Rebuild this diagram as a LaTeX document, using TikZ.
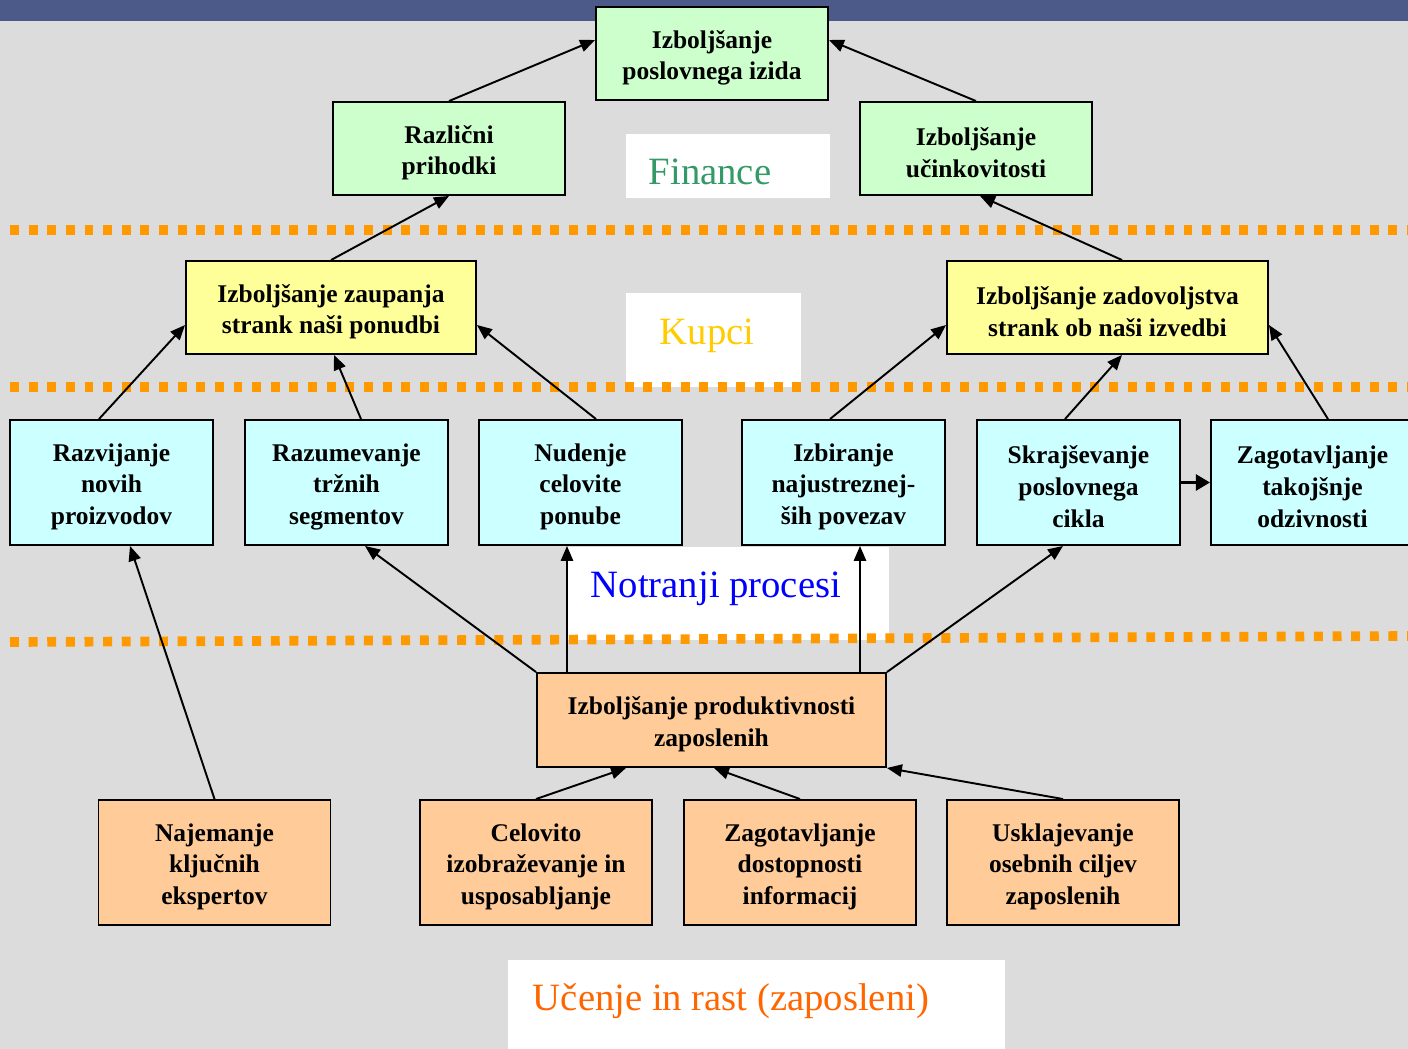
\documentclass[tikz,border=0pt]{standalone}
\usepackage{fontspec}
\setmainfont{Liberation Serif}
\usetikzlibrary{arrows.meta}
\definecolor{bgray}{HTML}{DCDCDC}
\definecolor{topbar}{HTML}{4B5A88}
\definecolor{fgreen}{HTML}{CCFFCC}
\definecolor{fyellow}{HTML}{FFFF99}
\definecolor{fcyan}{HTML}{CCFFFF}
\definecolor{forange}{HTML}{FFCC99}
\definecolor{dotorange}{HTML}{FF9900}
\definecolor{tfin}{HTML}{339966}
\definecolor{tkup}{HTML}{FFCC00}
\definecolor{tnot}{HTML}{0000FF}
\definecolor{tuce}{HTML}{FF6600}
\begin{document}
\begin{tikzpicture}[
  box/.style={draw=black, line width=1.1pt, inner sep=0pt},
  txt/.style={align=center, inner sep=0pt, yshift=-0.085cm, font=\bfseries\fontsize{14.5}{18}\selectfont},
  gbox/.style={box, fill=fgreen, minimum width=4.64cm, minimum height=1.86cm},
  ybox/.style={box, fill=fyellow, minimum height=1.86cm},
  cbox/.style={box, fill=fcyan, minimum width=4.06cm, minimum height=2.5cm},
  obox/.style={box, fill=forange, minimum width=4.64cm, minimum height=2.5cm},
  arr/.style={line width=1.1pt, -{Triangle[length=8.5pt,width=7pt]}},
  dots/.style={draw=dotorange, line width=5.5pt, dash pattern=on 5.1pt off 5.5pt},
  lbl/.style={font=\fontsize{22}{26}\selectfont, inner sep=0pt}
]
% background
\fill[bgray] (0,0) rectangle (28.16,-20.98);
\useasboundingbox (0,0) rectangle (28.16,-20.98);
\fill[topbar] (0,0) rectangle (28.16,-0.41);
% white label boxes
\fill[white] (12.52,-2.68) rectangle (16.6,-3.96);
\fill[white] (12.52,-5.86) rectangle (16.02,-7.74);
\fill[white] (11.34,-10.94) rectangle (17.78,-12.8);
\fill[white] (10.16,-19.2) rectangle (20.1,-20.98);
\node[lbl, text=tfin] (lfin) at (14.2,-3.44) {Finance};
\node[lbl, text=tkup] (lkup) at (14.14,-6.72) {Kupci};
\node[lbl, text=tnot] (lnot) at (14.32,-11.78) {Notranji procesi};
\node[lbl, text=tuce] (luce) at (14.62,-20.02) {Učenje in rast (zaposleni)};
% dotted separators
\draw[dots] (0.2,-4.6) -- (28.16,-4.6);
\draw[dots] (0.2,-7.74) -- (28.16,-7.74);
\draw[dots] (0.2,-12.84) -- (28.16,-12.72);
% nodes
\node[gbox, label={[txt]center:{Izboljšanje\\poslovnega izida}}] (top) at (14.24,-1.07) {};
\node[gbox, label={[txt]center:{Različni\\prihodki}}] (raz) at (8.98,-2.97) {};
\node[gbox, label={[txt]center:{Izboljšanje\\učinkovitosti}}] (uci) at (19.52,-2.97) {};
\node[ybox, minimum width=5.8cm, label={[txt]center:{Izboljšanje zaupanja\\strank naši ponudbi}}] (zau) at (6.62,-6.15) {};
\node[ybox, minimum width=6.42cm, label={[txt]center:{Izboljšanje zadovoljstva\\strank ob naši izvedbi}}] (zad) at (22.15,-6.15) {};
\node[cbox, label={[txt]center:{Razvijanje\\novih\\proizvodov}}] (c1) at (2.23,-9.65) {};
\node[cbox, label={[txt]center:{Razumevanje\\tržnih\\segmentov}}] (c2) at (6.93,-9.65) {};
\node[cbox, label={[txt]center:{Nudenje\\celovite\\ponube}}] (c3) at (11.61,-9.65) {};
\node[cbox, label={[txt]center:{Izbiranje\\najustreznej-\\ših povezav}}] (c4) at (16.87,-9.65) {};
\node[cbox, label={[txt]center:{Skrajševanje\\poslovnega\\cikla}}] (c5) at (21.57,-9.65) {};
\node[cbox, label={[txt]center:{Zagotavljanje\\takojšnje\\odzivnosti}}] (c6) at (26.25,-9.65) {};
\node[box, fill=forange, minimum width=6.98cm, minimum height=1.88cm, label={[txt]center:{Izboljšanje produktivnosti\\zaposlenih}}] (prod) at (14.23,-14.4) {};
\node[obox, label={[txt]center:{Najemanje\\ključnih\\ekspertov}}] (b1) at (4.29,-17.25) {};
\node[obox, label={[txt]center:{Celovito\\izobraževanje in\\usposabljanje}}] (b2) at (10.72,-17.25) {};
\node[obox, label={[txt]center:{Zagotavljanje\\dostopnosti\\informacij}}] (b3) at (16.0,-17.25) {};
\node[obox, label={[txt]center:{Usklajevanje\\osebnih ciljev\\zaposlenih}}] (b4) at (21.26,-17.25) {};
% connectors
\draw[arr] (raz.north) -- ([yshift=0.27cm]top.west);
\draw[arr] (uci.north) -- ([yshift=0.27cm]top.east);
\draw[arr] (zau.north) -- (raz.south);
\draw[arr] ([xshift=0.29cm]zad.north) -- ([xshift=0.08cm]uci.south);
\draw[arr] ([xshift=-0.25cm]c1.north) -- ([yshift=-0.35cm]zau.west);
\draw[arr] ([xshift=0.29cm]c2.north) -- ([xshift=0.06cm]zau.south);
\draw[arr] ([xshift=0.31cm]c3.north) -- ([yshift=-0.35cm]zau.east);
\draw[arr] ([xshift=-0.27cm]c4.north) -- ([yshift=-0.35cm]zad.west);
\draw[arr] ([xshift=-0.27cm]c5.north) -- ([xshift=0.29cm]zad.south);
\draw[arr] ([xshift=0.31cm]c6.north) -- ([yshift=-0.35cm]zad.east);
\draw[line width=1.7pt, -{Triangle[length=8pt,width=9pt]}] (c5.east) -- (c6.west);
\draw[arr] (b1.north) -- ([xshift=0.37cm]c1.south);
\draw[arr] (prod.north west) -- ([xshift=0.37cm]c2.south);
\draw[arr] ([xshift=-2.89cm]prod.north) -- ([xshift=-0.27cm]c3.south);
\draw[arr] ([xshift=2.97cm]prod.north) -- ([xshift=0.33cm]c4.south);
\draw[arr] (prod.north east) -- ([xshift=-0.31cm]c5.south);
\draw[arr] (b2.north) -- ([xshift=-1.71cm]prod.south);
\draw[arr] (b3.north) -- ([xshift=0.05cm]prod.south);
\draw[arr] (b4.north) -- (prod.south east);
\end{tikzpicture}
\end{document}
